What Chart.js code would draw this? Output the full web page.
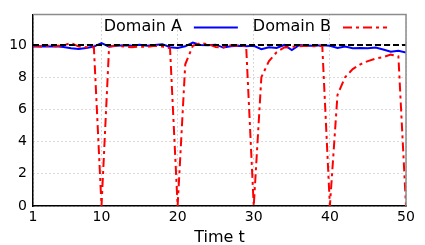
<!DOCTYPE html>
<html>
<head>
<meta charset="utf-8">
<script src="https://cdn.jsdelivr.net/npm/chart.js@4.4.1/dist/chart.umd.min.js"></script>
<style>
  body { margin: 0; background: #fff; }
  #wrap { width: 425px; height: 245px; }
</style>
</head>
<body>
<div id="wrap"><canvas id="domainChart" width="425" height="245"></canvas></div>
<script>
// time steps 1..50
var timeSteps = [1, 2, 3, 4, 5, 6, 7, 8, 9, 10, 11, 12, 13, 14, 15, 16, 17, 18, 19, 20,
    21, 22, 23, 24, 25, 26, 27, 28, 29, 30, 31, 32, 33, 34, 35, 36, 37, 38, 39, 40,
    41, 42, 43, 44, 45, 46, 47, 48, 49, 50];

var domainA = [9.90, 9.92, 9.90, 9.92, 9.88, 9.80, 9.75, 9.82, 9.90, 10.12,
    9.90, 9.95, 9.98, 9.96, 10.02, 9.95, 10.00, 10.05, 9.86, 9.82,
    9.92, 10.15, 10.00, 9.98, 10.02, 9.84, 9.92, 9.95, 9.92, 9.95,
    9.74, 9.86, 9.82, 10.00, 9.68, 10.00, 9.96, 9.95, 9.98, 9.95,
    9.82, 9.90, 9.80, 9.82, 9.80, 9.84, 9.72, 9.58, 9.64, 9.54];

var domainB = [9.95, 9.90, 9.95, 9.92, 9.98, 10.12, 9.90, 9.86, 9.85, 0,
    9.92, 9.95, 9.90, 9.86, 9.90, 9.88, 9.95, 9.90, 9.80, 0,
    8.80, 9.95, 10.12, 10.05, 9.88, 9.84, 9.98, 9.95, 9.95, 0,
    8.00, 9.00, 9.55, 9.85, 9.88, 9.92, 9.95, 9.92, 9.95, 0,
    6.90, 8.00, 8.50, 8.80, 9.00, 9.15, 9.25, 9.40, 9.30, 0];

var referenceLevel = 10;

var xTicks = [1, 10, 20, 30, 40, 50];
var yTicks = [0, 2, 4, 6, 8, 10];
var yMax = 11.9;

var legendItems = [
    { label: "Domain A", color: "#0000ff", dash: [] },
    { label: "Domain B", color: "#ff0000", dash: [9, 4, 3, 4] }
];

function toPoints(values) {
    return values.map(function (v, i) { return { x: timeSteps[i], y: v }; });
}

// legend drawn as text first, then the line sample (like the original)
var textFirstLegend = {
    id: "textFirstLegend",
    afterDraw: function (chart) {
        var ctx = chart.ctx;
        var area = chart.chartArea;
        ctx.save();
        ctx.font = "16px 'DejaVu Sans'";
        ctx.textBaseline = "middle";
        var sampleW = 44, gap = 12, itemGap = 15;
        var total = 0;
        legendItems.forEach(function (item, i) {
            total += ctx.measureText(item.label).width + gap + sampleW;
            if (i > 0) total += itemGap;
        });
        var x = area.right - 19 - total;
        var y = area.top + 12;
        legendItems.forEach(function (item) {
            ctx.fillStyle = "#000";
            ctx.fillText(item.label, x, y);
            x += ctx.measureText(item.label).width + gap;
            ctx.beginPath();
            ctx.setLineDash(item.dash);
            ctx.strokeStyle = item.color;
            ctx.lineWidth = 2;
            ctx.moveTo(x, y + 1);
            ctx.lineTo(x + sampleW, y + 1);
            ctx.stroke();
            x += sampleW + itemGap;
        });
        ctx.restore();
    }
};

// grey top and right spines
var frameSpines = {
    id: "frameSpines",
    afterDatasetsDraw: function (chart) {
        var ctx = chart.ctx;
        var a = chart.chartArea;
        ctx.save();
        ctx.strokeStyle = "#8c8c8c";
        ctx.lineWidth = 1.5;
        ctx.beginPath();
        ctx.moveTo(a.left, a.top);
        ctx.lineTo(a.right, a.top);
        ctx.lineTo(a.right, a.bottom);
        ctx.stroke();
        ctx.restore();
    }
};

var ctx = document.getElementById("domainChart").getContext("2d");

new Chart(ctx, {
    type: "line",
    data: {
        datasets: [
            {
                label: "Reference",
                data: [{ x: timeSteps[0], y: referenceLevel }, { x: timeSteps[timeSteps.length - 1], y: referenceLevel }],
                borderColor: "#000",
                borderWidth: 2,
                borderDash: [6, 3],
                pointRadius: 0,
                order: 0
            },
            {
                label: "Domain B",
                data: toPoints(domainB),
                borderColor: "#ff0000",
                borderWidth: 2,
                borderDash: [9, 4, 3, 4],
                pointRadius: 0,
                tension: 0,
                order: 1
            },
            {
                label: "Domain A",
                data: toPoints(domainA),
                borderColor: "#0000ff",
                borderWidth: 2,
                pointRadius: 0,
                tension: 0,
                order: 2
            }
        ]
    },
    options: {
        responsive: false,
        animation: false,
        layout: { padding: { top: 11, right: 19, left: 0, bottom: 0 } },
        plugins: {
            legend: { display: false },
            tooltip: { enabled: false }
        },
        scales: {
            x: {
                type: "linear",
                min: 1,
                max: 50,
                afterBuildTicks: function (scale) {
                    scale.ticks = xTicks.map(function (v) { return { value: v }; });
                },
                afterFit: function (scale) { scale.height = 39; },
                ticks: {
                    font: { family: "DejaVu Sans", size: 14 },
                    color: "#000",
                    padding: 3,
                    maxRotation: 0
                },
                grid: { color: "#b4b4b4", lineWidth: 1, drawTicks: false },
                border: { color: "#000", width: 1.5, dash: [1, 3] },
                title: {
                    display: true,
                    text: "Time t",
                    font: { family: "DejaVu Sans", size: 16 },
                    color: "#000",
                    padding: { top: 0, bottom: -2 }
                }
            },
            y: {
                min: 0,
                max: yMax,
                afterBuildTicks: function (scale) {
                    scale.ticks = yTicks.map(function (v) { return { value: v }; });
                },
                afterFit: function (scale) { scale.width = 33; },
                ticks: {
                    font: { family: "DejaVu Sans", size: 14 },
                    color: "#000",
                    padding: 6
                },
                grid: { color: "#b4b4b4", lineWidth: 1, drawTicks: false },
                border: { color: "#000", width: 1.5, dash: [1, 3] }
            }
        }
    },
    plugins: [frameSpines, textFirstLegend]
});
</script>
</body>
</html>
